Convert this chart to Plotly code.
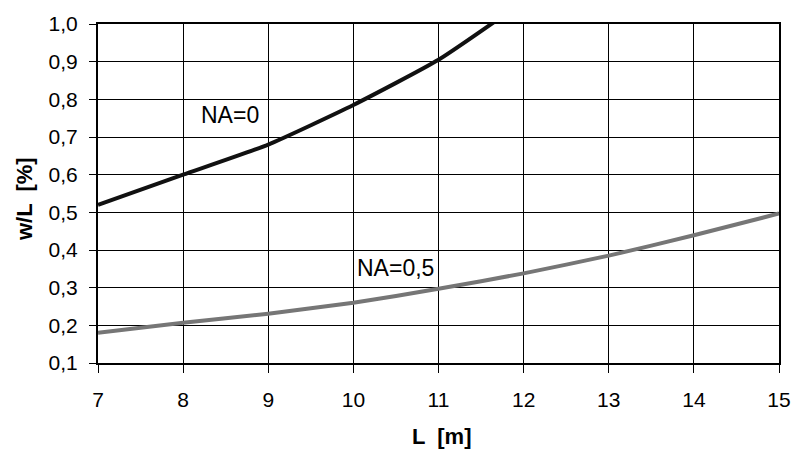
import plotly.graph_objects as go

L_values = [7, 8, 9, 10, 11, 12]
w_na0 = [0.52, 0.60, 0.68, 0.785, 0.905, 1.06]
L_values_05 = [7, 8, 9, 10, 11, 12, 13, 14, 15]
w_na05 = [0.18, 0.207, 0.231, 0.26, 0.297, 0.338, 0.385, 0.439, 0.497]
x_ticks = [7, 8, 9, 10, 11, 12, 13, 14, 15]
y_ticks = [0.1, 0.2, 0.3, 0.4, 0.5, 0.6, 0.7, 0.8, 0.9, 1.0]

FONT = "Liberation Sans, Arial, sans-serif"

fig = go.Figure()
fig.add_trace(go.Scatter(x=L_values, y=w_na0, mode="lines",
                         line=dict(color="#111111", width=4, shape="spline", smoothing=0.5),
                         showlegend=False, hoverinfo="skip"))
fig.add_trace(go.Scatter(x=L_values_05, y=w_na05, mode="lines",
                         line=dict(color="#767676", width=4, shape="spline", smoothing=0.5),
                         showlegend=False, hoverinfo="skip"))

fig.add_annotation(x=8.556, y=0.758, text="NA=0", showarrow=False,
                   font=dict(family=FONT, size=23, color="black"))
fig.add_annotation(x=10.5, y=0.352, text="NA=0,5", showarrow=False,
                   font=dict(family=FONT, size=23, color="black"))

fig.add_annotation(xref="paper", yref="paper", x=0.504, y=-0.217, yanchor="middle",
                   text="<b>L  [m]</b>", showarrow=False,
                   font=dict(family=FONT, size=22, color="black"))
fig.add_annotation(xref="paper", yref="paper", x=-0.109, y=0.483, xanchor="center",
                   yanchor="middle", text="<b>w/L  [%]</b>", textangle=-90, showarrow=False,
                   font=dict(family=FONT, size=22, color="black"))

fig.update_layout(
    width=803, height=450,
    margin=dict(l=98, r=16, t=19, b=87),
    plot_bgcolor="white", paper_bgcolor="white",
    separators=", ",
    font=dict(family=FONT, size=21, color="black"),
)
fig.update_xaxes(range=[7, 15], tickvals=x_ticks, showgrid=True, gridcolor="black", gridwidth=1,
                 showline=True, linecolor="black", linewidth=2, mirror=True,
                 ticks="outside", ticklen=8, tickcolor="black", tickwidth=1,
                 ticklabelstandoff=9, zeroline=False)
fig.update_yaxes(range=[0.1, 1.0], tickvals=y_ticks, tickformat=".1f",
                 showgrid=True, gridcolor="black", gridwidth=1,
                 showline=True, linecolor="black", linewidth=2, mirror=True,
                 ticks="outside", ticklen=7, tickcolor="black", tickwidth=1,
                 ticklabelstandoff=7, zeroline=False)

fig.write_html("out.html")
